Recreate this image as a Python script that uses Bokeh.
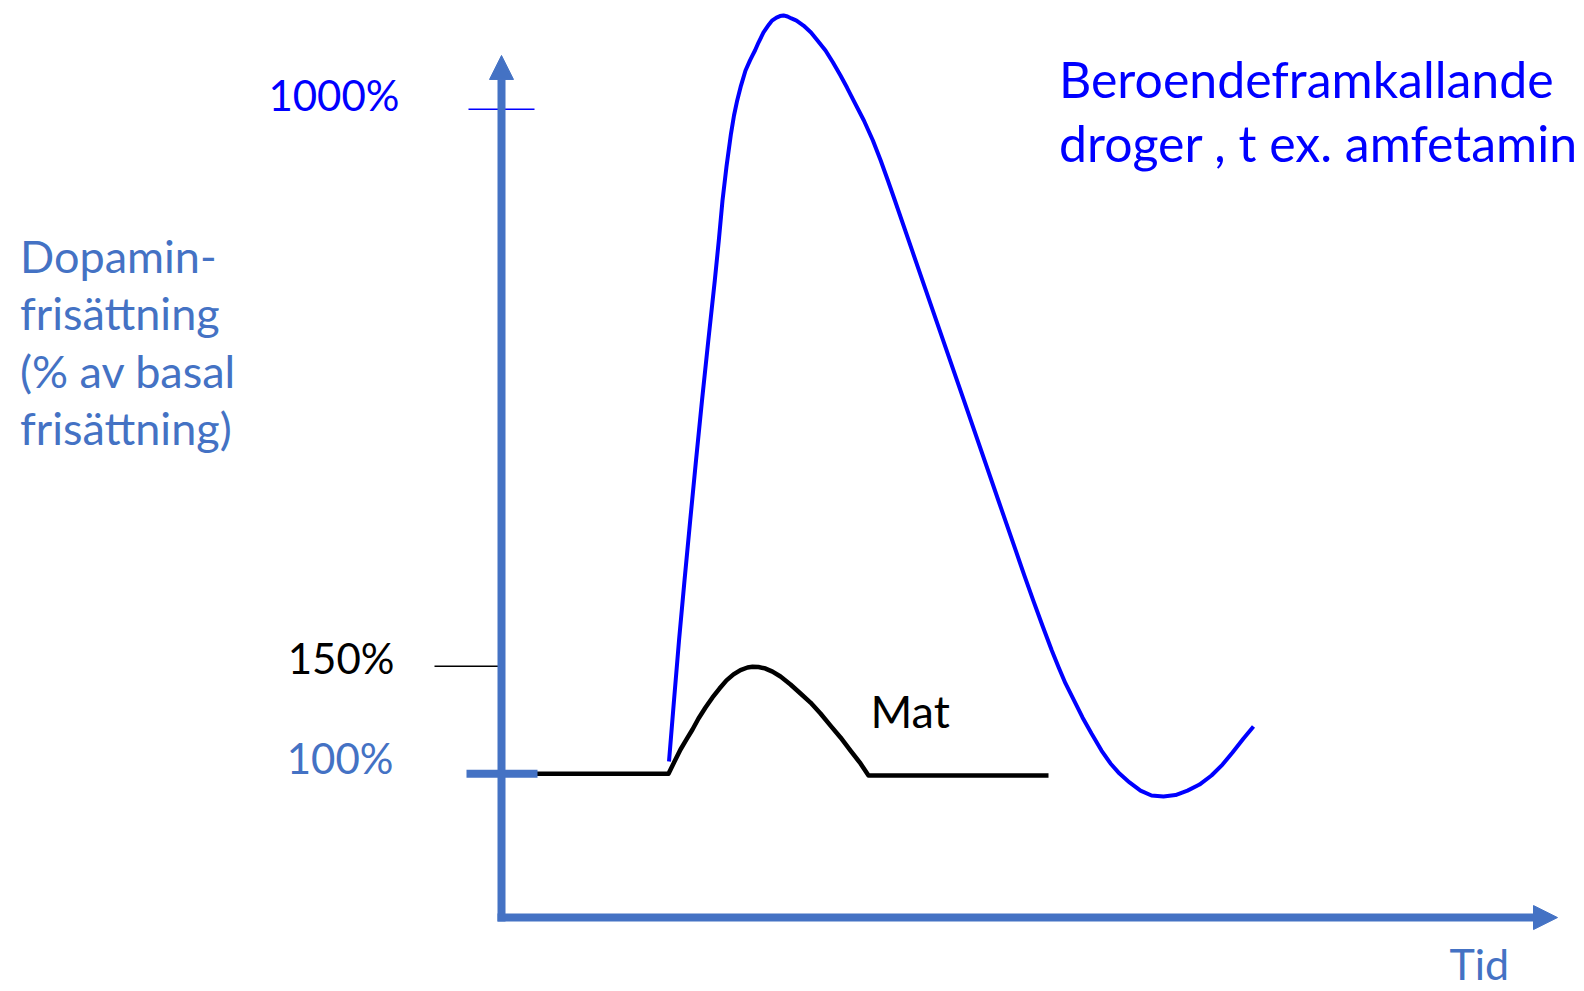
from bokeh.plotting import figure
from bokeh.models import Range1d, Arrow, NormalHead
from bokeh.core.properties import value
from bokeh.embed import file_html
from bokeh.resources import INLINE

# ---- data (schematic units: time t, dopamine level on the drawn scale) ----
drug_t = [16.75, 17.25, 17.75, 18.3, 18.87, 19.45, 20.05, 20.68, 21.33, 21.73,
          22.1, 22.5, 22.95, 23.25, 23.57, 23.95, 24.4, 24.85, 25.1, 25.35,
          25.7, 26.2, 26.75, 27.05, 27.5, 27.85, 28.2,
          28.6, 29.0, 29.5, 30.2, 30.95, 31.6, 32.4, 33.15, 33.9, 34.55,
          35.2, 36.24, 37.14, 37.92, 38.64, 39.34, 41.06, 42.79, 46.24, 49.69,
          51.42, 52.29, 53.18, 54.09, 55.03, 55.72, 56.4, 57.25, 58.1, 59.0,
          60.0, 60.9, 61.8, 62.8, 63.9, 65.0, 66.2, 67.4, 68.6, 69.8, 71.0,
          72.1, 73.1, 74.2, 75.2]
drug_level = [105.7, 134.1, 161.9, 189.8, 217.7, 245.6, 273.5, 301.3, 329.2, 347.8,
              366.4, 382.2, 397.5, 405.9, 412.9, 419.8, 426.8, 431.5, 433.8, 436.1,
              439.8, 444.5, 448.2, 450.0, 451.4, 452.1, 452.4,
              451.9, 451.0, 450.0, 447.7, 444.5, 440.8, 436.1, 430.5, 424.5, 418.9,
              412.9, 403.6, 394.3, 385.0, 375.7, 366.4, 343.2, 319.9, 273.5, 227.0,
              203.8, 192.1, 180.5, 168.9, 157.3, 149.4, 142.0, 134.1, 126.2, 118.7,
              110.8, 104.8, 100.1, 96.0, 92.2, 89.9, 89.5, 90.1, 92.2, 95.0, 99.2,
              104.3, 109.9, 116.4, 122.0]

food_t = [2.8, 16.7, 17.3, 17.9, 18.5, 19.1, 19.7, 20.4, 21.1, 21.8, 22.5, 23.2,
          23.9, 24.6, 25.1, 25.7, 26.4, 27.1, 27.9, 28.9, 29.9, 30.9, 31.9, 32.9,
          33.9, 34.9, 35.9, 36.7, 54.7]
food_level = [100.0, 100.0, 105.7, 111.3, 116.0, 120.6, 125.7, 130.8, 135.5, 139.6,
              143.4, 146.2, 148.2, 149.4, 149.7, 149.6, 148.9, 147.5, 145.2, 141.5,
              137.3, 133.1, 128.0, 122.4, 116.9, 110.8, 104.8, 99.2, 99.2]

tick_levels = [408.8, 150.0, 100.0]
tick_labels = ["1000%", "150%", "100%"]

ylabel_lines = ["Dopamin-", "frisättning", "(% av basal", "frisättning)"]
drug_label = ["Beroendeframkallande", "droger , t ex. amfetamin"]
food_label = "Mat"
xlabel = "Tid"

STEEL = "#4472C4"
BLUE = "#0000FF"
FONT = value("Lato")

p = figure(width=1584, height=991,
           x_range=Range1d(-50.1, 108.3), y_range=Range1d(-1.16, 459.34),
           output_backend="svg", toolbar_location=None, min_border=0)
p.axis.visible = False
p.grid.visible = False
p.outline_line_color = None
p.background_fill_color = "white"
p.border_fill_color = "white"

# axes with arrows
axis_y0 = 33.2
p.add_layout(Arrow(end=NormalHead(size=24, fill_color=STEEL, line_color=STEEL, line_width=1),
                   x_start=0, y_start=31.4, x_end=0, y_end=433.8,
                   line_color=STEEL, line_width=8))
p.add_layout(Arrow(end=NormalHead(size=24, fill_color=STEEL, line_color=STEEL, line_width=1),
                   x_start=-0.4, y_start=axis_y0, x_end=105.6, y_end=axis_y0,
                   line_color=STEEL, line_width=8))

# curves
p.line(food_t, food_level, line_color="black", line_width=4.5, line_join="round")
p.line(drug_t, drug_level, line_color=BLUE, line_width=4, line_join="round")

# tick marks
p.segment(x0=[-3.3], y0=[tick_levels[0]], x1=[3.3], y1=[tick_levels[0]],
          line_color=BLUE, line_width=1.6)
p.segment(x0=[-6.7], y0=[tick_levels[1]], x1=[0], y1=[tick_levels[1]],
          line_color="black", line_width=1.6)
p.segment(x0=[-3.5], y0=[tick_levels[2]], x1=[3.6], y1=[tick_levels[2]],
          line_color=STEEL, line_width=8)

# tick labels (right-aligned)
label_x = [-10.2, -10.7, -10.8]
label_y = [415.2, 153.8, 107.3]
label_colors = [BLUE, "black", STEEL]
p.text(x=label_x, y=label_y, text=tick_labels, text_color=label_colors,
       text_font=FONT, text_font_size="42px", text_baseline="alphabetic", text_align="right")

# y label
p.text(x=[-48.15] * 4, y=[340.8, 314.1, 287.4, 260.7], text=ylabel_lines,
       text_color=STEEL, text_font=FONT, text_font_size="45px",
       text_baseline="alphabetic", text_align="left")

# drug label
p.text(x=[55.75, 55.75], y=[423.0, 393.3], text=drug_label, text_color=BLUE,
       text_font=FONT, text_font_size="50px", text_baseline="alphabetic", text_align="left")

# food label
p.text(x=[36.9], y=[129.0], text=[food_label], text_color="black",
       text_font=FONT, text_font_size="45px", text_baseline="alphabetic", text_align="left")

# x label
p.text(x=[94.8], y=[12.0], text=[xlabel], text_color=STEEL,
       text_font=FONT, text_font_size="43px", text_baseline="alphabetic", text_align="left")

open("out.html", "w").write(file_html(p, INLINE))
